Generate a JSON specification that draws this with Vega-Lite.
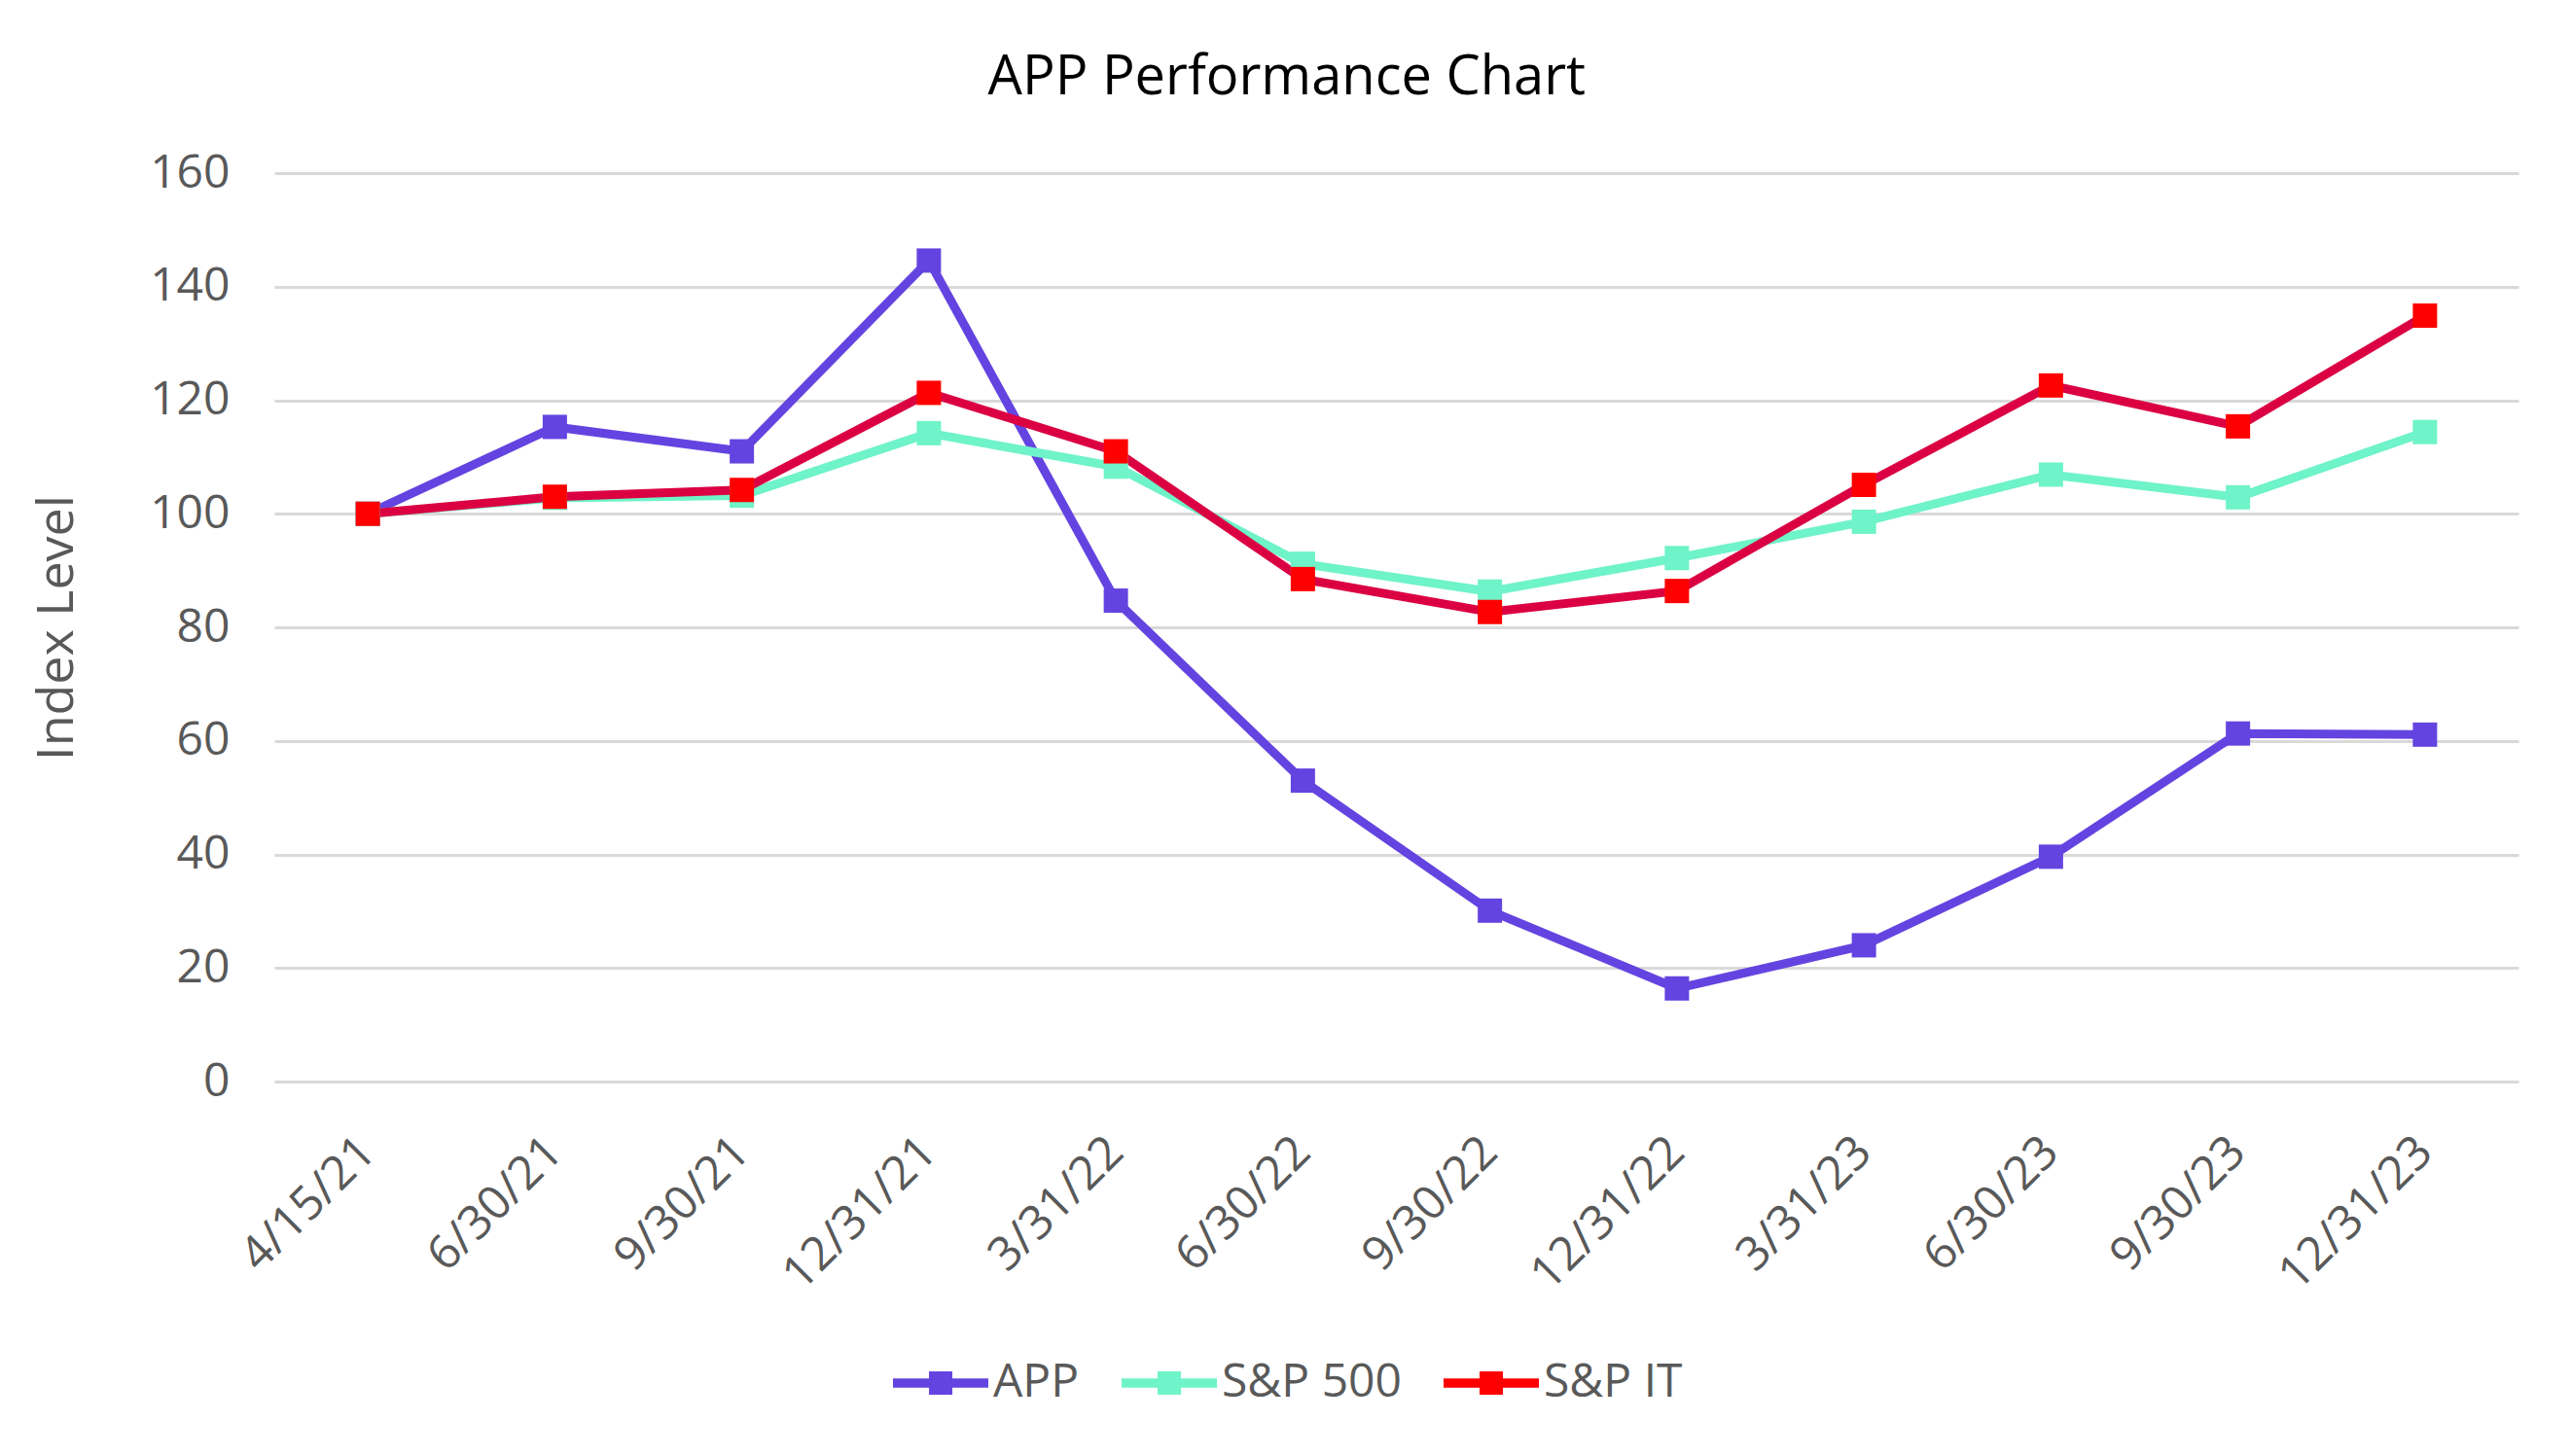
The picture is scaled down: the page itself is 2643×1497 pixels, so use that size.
{
  "$schema": "https://vega.github.io/schema/vega-lite/v6.json",
  "width": 2307,
  "height": 934,
  "autosize": {"type": "none"},
  "padding": {"left": 282, "top": 178, "right": 54, "bottom": 385},
  "background": "white",
  "config": {
    "view": {"stroke": null},
    "font": "Open Sans"
  },
  "title": {
    "text": "APP Performance Chart",
    "fontSize": 56,
    "font": "Open Sans",
    "fontWeight": "normal",
    "color": "#000000",
    "anchor": "middle",
    "frame": "bounds",
    "baseline": "alphabetic",
    "offset": 1,
    "dx": 12
  },
  "data": {
    "values": [
      {"date": "4/15/21", "series": "APP", "value": 100},
      {"date": "6/30/21", "series": "APP", "value": 115.3},
      {"date": "9/30/21", "series": "APP", "value": 111.0},
      {"date": "12/31/21", "series": "APP", "value": 144.6},
      {"date": "3/31/22", "series": "APP", "value": 84.7},
      {"date": "6/30/22", "series": "APP", "value": 53.0},
      {"date": "9/30/22", "series": "APP", "value": 30.1},
      {"date": "12/31/22", "series": "APP", "value": 16.4},
      {"date": "3/31/23", "series": "APP", "value": 24.0},
      {"date": "6/30/23", "series": "APP", "value": 39.6},
      {"date": "9/30/23", "series": "APP", "value": 61.3},
      {"date": "12/31/23", "series": "APP", "value": 61.1},
      {"date": "4/15/21", "series": "S&P 500", "value": 100},
      {"date": "6/30/21", "series": "S&P 500", "value": 102.8},
      {"date": "9/30/21", "series": "S&P 500", "value": 103.2},
      {"date": "12/31/21", "series": "S&P 500", "value": 114.2},
      {"date": "3/31/22", "series": "S&P 500", "value": 108.3},
      {"date": "6/30/22", "series": "S&P 500", "value": 91.2},
      {"date": "9/30/22", "series": "S&P 500", "value": 86.3},
      {"date": "12/31/22", "series": "S&P 500", "value": 92.2},
      {"date": "3/31/23", "series": "S&P 500", "value": 98.6},
      {"date": "6/30/23", "series": "S&P 500", "value": 106.9},
      {"date": "9/30/23", "series": "S&P 500", "value": 102.9},
      {"date": "12/31/23", "series": "S&P 500", "value": 114.4},
      {"date": "4/15/21", "series": "S&P IT", "value": 100},
      {"date": "6/30/21", "series": "S&P IT", "value": 103.0},
      {"date": "9/30/21", "series": "S&P IT", "value": 104.2},
      {"date": "12/31/21", "series": "S&P IT", "value": 121.3},
      {"date": "3/31/22", "series": "S&P IT", "value": 111.0},
      {"date": "6/30/22", "series": "S&P IT", "value": 88.5},
      {"date": "9/30/22", "series": "S&P IT", "value": 82.7},
      {"date": "12/31/22", "series": "S&P IT", "value": 86.4},
      {"date": "3/31/23", "series": "S&P IT", "value": 105.1},
      {"date": "6/30/23", "series": "S&P IT", "value": 122.6},
      {"date": "9/30/23", "series": "S&P IT", "value": 115.4},
      {"date": "12/31/23", "series": "S&P IT", "value": 134.9}
    ]
  },
  "encoding": {
    "x": {
      "field": "date",
      "type": "ordinal",
      "sort": ["4/15/21", "6/30/21", "9/30/21", "12/31/21", "3/31/22", "6/30/22", "9/30/22", "12/31/22", "3/31/23", "6/30/23", "9/30/23", "12/31/23"],
      "scale": {"type": "point", "padding": 0.5},
      "axis": {
        "title": null,
        "domain": false,
        "ticks": false,
        "grid": false,
        "labelAngle": -45,
        "labelAlign": "right",
        "labelBaseline": "middle",
        "labelFont": "Open Sans",
        "labelFontSize": 48,
        "labelColor": "#595959",
        "labelPadding": 65,
        "labelLimit": 0
      }
    },
    "y": {
      "field": "value",
      "type": "quantitative",
      "scale": {"domain": [0, 160], "nice": false, "zero": true},
      "axis": {
        "title": "Index Level",
        "titleFont": "Open Sans",
        "titleFontSize": 52,
        "titleFontWeight": "normal",
        "titleColor": "#595959",
        "titlePadding": 68,
        "values": [0, 20, 40, 60, 80, 100, 120, 140, 160],
        "domain": false,
        "ticks": false,
        "grid": true,
        "gridColor": "#D9D9D9",
        "gridWidth": 3,
        "labelFont": "Open Sans",
        "labelFontSize": 48,
        "labelColor": "#595959",
        "labelPadding": 46
      }
    }
  },
  "layer": [
    {
      "mark": {"type": "line", "strokeWidth": 9},
      "encoding": {
        "color": {
          "field": "series",
          "type": "nominal",
          "scale": {"domain": ["APP", "S&P 500", "S&P IT"], "range": ["#6444E0", "#6FF3C8", "#DB0042"]},
          "legend": {
            "title": null,
            "orient": "none",
            "legendX": 636,
            "legendY": 1195,
            "direction": "horizontal",
            "symbolType": "M-1,-0.095H1V0.095H-1Z M-0.245,-0.245H0.245V0.245H-0.245Z",
            "symbolSize": 9604,
            "symbolStrokeWidth": 0,
            "labelFont": "Open Sans",
            "labelFontSize": 48,
            "labelColor": "#595959",
            "labelOffset": 5,
            "labelLimit": 0,
            "columnPadding": 43,
            "encode": {
              "symbols": {
                "update": {
                  "fill": {"scale": "color", "field": "value"},
                  "stroke": {"value": "transparent"},
                  "opacity": {"value": 1}
                }
              }
            }
          }
        }
      }
    },
    {
      "mark": {"type": "point", "shape": "square", "filled": true, "size": 625, "opacity": 1, "strokeWidth": 0},
      "encoding": {
        "fill": {
          "field": "series",
          "type": "nominal",
          "scale": {"domain": ["APP", "S&P 500", "S&P IT"], "range": ["#6444E0", "#6FF3C8", "#FF0000"]},
          "legend": null
        }
      }
    }
  ]
}
